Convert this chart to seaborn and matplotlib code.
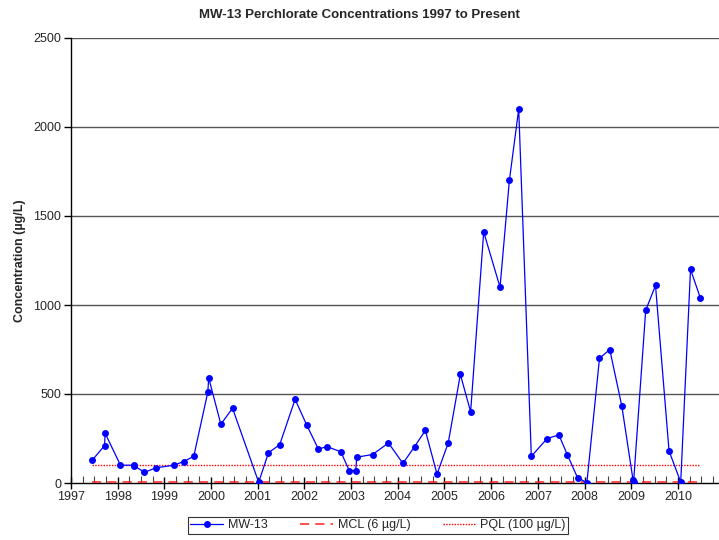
import matplotlib
matplotlib.use("Agg")
import matplotlib.pyplot as plt
from matplotlib.ticker import MultipleLocator
import pandas as pd
import seaborn as sns

# sample dates as decimal years, concentrations in ug/L
dates = [1997.46, 1997.72, 1997.73, 1998.06, 1998.34, 1998.36, 1998.57, 1998.82,
         1999.20, 1999.41, 1999.63, 1999.93, 1999.95, 2000.21, 2000.46, 2001.02,
         2001.23, 2001.47, 2001.80, 2002.05, 2002.30, 2002.48, 2002.78, 2002.96,
         2003.10, 2003.12, 2003.46, 2003.80, 2004.11, 2004.36, 2004.59, 2004.84,
         2005.08, 2005.34, 2005.56, 2005.84, 2006.19, 2006.39, 2006.59, 2006.86,
         2007.20, 2007.45, 2007.63, 2007.85, 2008.05, 2008.32, 2008.54, 2008.80,
         2009.04, 2009.05, 2009.31, 2009.52, 2009.81, 2010.06, 2010.27, 2010.48]
values = [130, 210, 280, 100, 100, 96, 60, 85,
          100, 120, 150, 510, 590, 330, 420, 4,
          170, 215, 470, 325, 190, 205, 175, 70,
          70, 145, 160, 225, 110, 205, 295, 50,
          225, 610, 400, 1410, 1100, 1700, 2100, 150,
          250, 270, 160, 30, 2, 700, 750, 430,
          15, 4, 970, 1110, 180, 5, 1200, 1040]

MCL = 6
PQL = 100
year_ticks = list(range(1997, 2011))
y_ticks = [0, 500, 1000, 1500, 2000, 2500]

sns.set_style("white")
plt.rcParams["font.family"] = ["Liberation Sans", "DejaVu Sans"]

df = pd.DataFrame({"date": dates, "conc": values})

fig = plt.figure(figsize=(7.19, 5.40), dpi=100)
ax = fig.add_axes([71 / 719, 57 / 540, 648 / 719, 445 / 540])

sns.lineplot(data=df, x="date", y="conc", ax=ax, color="#0000FF", lw=0.9,
             marker="o", markersize=5, markeredgewidth=0, estimator=None,
             sort=False, label="MW-13", zorder=4)
span = [min(dates), max(dates)]
ax.plot(span, [MCL, MCL], color="#FF2020", lw=1.1, ls=(0, (6, 4)),
        label="MCL (6 µg/L)", zorder=3, clip_on=False)
ax.plot(span, [PQL, PQL], color="#FF0000", lw=1, ls=(0, (1, 1)),
        label="PQL (100 µg/L)", zorder=3)

ax.set_xlim(1997, 2010.88)
ax.set_ylim(0, 2500)
ax.set_xticks(year_ticks)
ax.xaxis.set_minor_locator(MultipleLocator(0.25))
ax.set_yticks(y_ticks)
for y in y_ticks[1:]:
    ax.axhline(y, color="#555555", lw=1, zorder=0)

ax.tick_params(axis="x", which="major", direction="inout", length=8, width=1,
               color="black", labelsize=9, pad=2)
ax.tick_params(axis="x", which="minor", direction="in", length=5, width=0.8,
               color="#444444")
ax.tick_params(axis="y", direction="out", length=5, width=1, color="black",
               labelsize=9, pad=2)
ax.tick_params(bottom=True, left=True, which="both")

for side in ["top", "right"]:
    ax.spines[side].set_visible(False)
for side in ["left", "bottom"]:
    ax.spines[side].set_color("black")
    ax.spines[side].set_linewidth(1)

ax.set_xlabel("")
ax.set_ylabel("Concentration (µg/L)", fontsize=9, fontweight="bold", labelpad=5)
fig.text(0.5, 1 - 15 / 540, "MW-13 Perchlorate Concentrations 1997 to Present",
         ha="center", va="center", fontsize=9.5, fontweight="bold")

ax.get_legend().remove()
handles, labels = ax.get_legend_handles_labels()
leg = fig.legend(handles, labels, ncol=3, loc="center", fontsize=9,
                 bbox_to_anchor=(378 / 719, 1 - 525 / 540), frameon=True,
                 fancybox=False, edgecolor="black", handlelength=2.6,
                 columnspacing=2.6, borderpad=0.2, handletextpad=0.4,
                 borderaxespad=0)
leg.get_frame().set_linewidth(0.8)

fig.savefig("out.png", dpi=100)
